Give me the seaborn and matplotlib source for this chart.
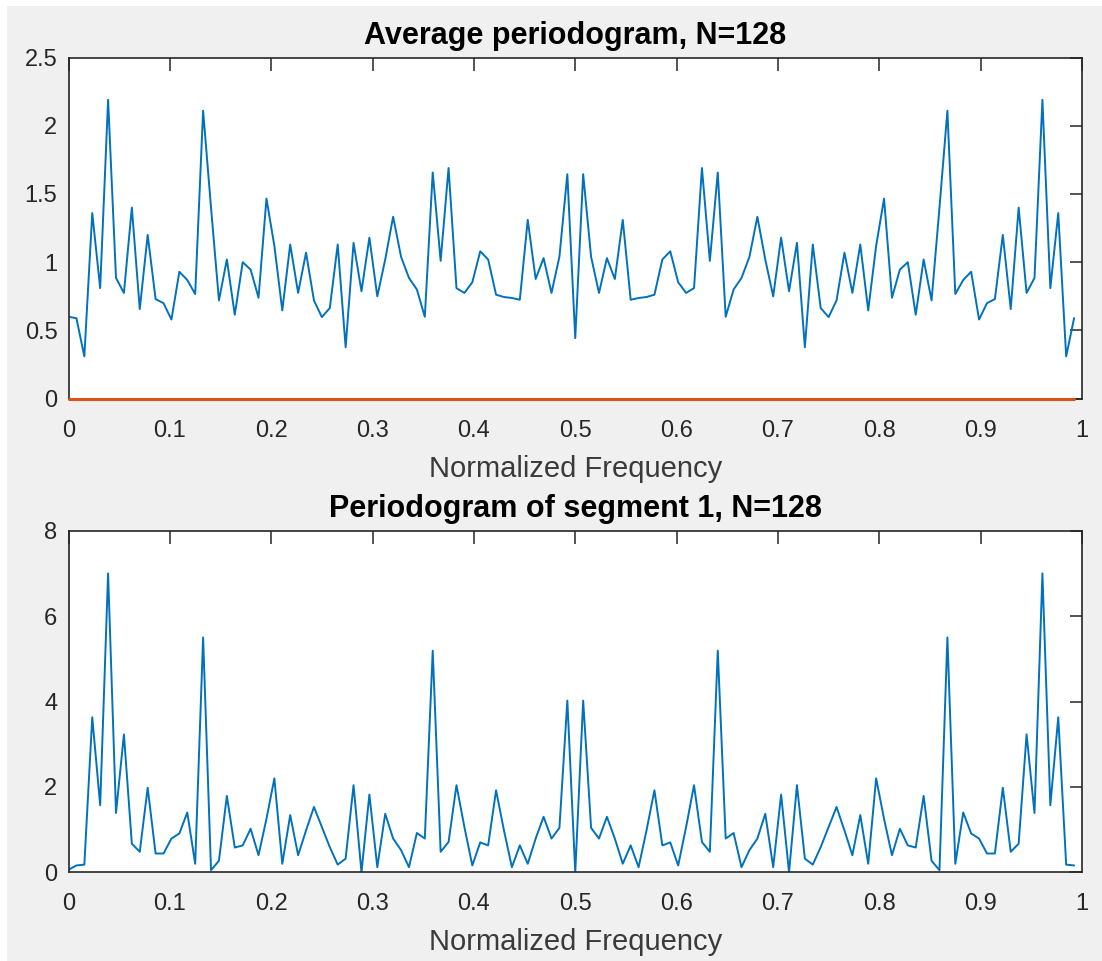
import numpy as np
import pandas as pd
import matplotlib
matplotlib.use("Agg")
import matplotlib.pyplot as plt
from matplotlib.patches import Rectangle
import seaborn as sns

# Frequency bins (N = 128) and spectral estimates
n_bins = 128
freq = np.arange(n_bins) / n_bins

avg_power = [
    0.60, 0.59, 0.31, 1.36, 0.81, 2.19, 0.885, 0.775, 1.40, 0.657,
    1.20, 0.73, 0.70, 0.58, 0.93, 0.87, 0.767, 2.11, 1.40, 0.72,
    1.02, 0.615, 1.00, 0.946, 0.74, 1.466, 1.12, 0.647, 1.13, 0.775,
    1.07, 0.72, 0.598, 0.664, 1.13, 0.377, 1.142, 0.787, 1.18, 0.75,
    1.02, 1.333, 1.04, 0.885, 0.80, 0.60, 1.657, 1.01, 1.69, 0.81,
    0.775, 0.853, 1.08, 1.02, 0.762, 0.745, 0.738, 0.725, 1.31, 0.877,
    1.03, 0.775, 1.04, 1.645, 0.444,
    1.645, 1.04, 0.775, 1.03, 0.877, 1.31, 0.725, 0.738, 0.745, 0.762,
    1.02, 1.08, 0.853, 0.775, 0.81, 1.69, 1.01, 1.657, 0.60, 0.80,
    0.885, 1.04, 1.333, 1.02, 0.75, 1.18, 0.787, 1.142, 0.377, 1.13,
    0.664, 0.598, 0.72, 1.07, 0.775, 1.13, 0.647, 1.12, 1.466, 0.74,
    0.946, 1.00, 0.615, 1.02, 0.72, 1.40, 2.11, 0.767, 0.87, 0.93,
    0.58, 0.70, 0.73, 1.20, 0.657, 1.40, 0.775, 0.885, 2.19, 0.81,
    1.36, 0.31, 0.59,
]

baseline = [0.0] * n_bins

seg1_power = [
    0.06, 0.16, 0.18, 3.63, 1.57, 7.0, 1.39, 3.23, 0.67, 0.48,
    1.98, 0.44, 0.44, 0.79, 0.91, 1.40, 0.20, 5.5, 0.05, 0.27,
    1.79, 0.58, 0.63, 1.02, 0.40, 1.25, 2.2, 0.20, 1.34, 0.40,
    0.98, 1.53, 1.06, 0.59, 0.18, 0.32, 2.04, 0.0, 1.82, 0.12,
    1.37, 0.79, 0.52, 0.12, 0.92, 0.79, 5.19, 0.48, 0.71, 2.04,
    1.06, 0.16, 0.70, 0.63, 1.92, 0.98, 0.12, 0.63, 0.20, 0.79,
    1.30, 0.79, 1.04, 4.02, 0.0,
    4.02, 1.04, 0.79, 1.30, 0.79, 0.20, 0.63, 0.12, 0.98, 1.92,
    0.63, 0.70, 0.16, 1.06, 2.04, 0.71, 0.48, 5.19, 0.79, 0.92,
    0.12, 0.52, 0.79, 1.37, 0.12, 1.82, 0.0, 2.04, 0.32, 0.18,
    0.59, 1.06, 1.53, 0.98, 0.40, 1.34, 0.20, 2.2, 1.25, 0.40,
    1.02, 0.63, 0.58, 1.79, 0.27, 0.05, 5.5, 0.20, 1.40, 0.91,
    0.79, 0.44, 0.44, 1.98, 0.48, 0.67, 3.23, 1.39, 7.0, 1.57,
    3.63, 0.18, 0.16,
]

top_title = "Average periodogram, N=128"
bottom_title = "Periodogram of segment 1, N=128"
x_label = "Normalized Frequency"
x_ticks = [0, 0.1, 0.2, 0.3, 0.4, 0.5, 0.6, 0.7, 0.8, 0.9, 1]
x_ticklabels = ["0", "0.1", "0.2", "0.3", "0.4", "0.5", "0.6", "0.7", "0.8", "0.9", "1"]
top_yticks = [0, 0.5, 1, 1.5, 2, 2.5]
top_yticklabels = ["0", "0.5", "1", "1.5", "2", "2.5"]
bottom_yticks = [0, 2, 4, 6, 8]
bottom_yticklabels = ["0", "2", "4", "6", "8"]

BLUE = "#0072BD"
ORANGE = "#D95319"
INK = "#262626"

sns.set_theme(style="white")
plt.rcParams["font.family"] = ["Liberation Sans", "DejaVu Sans"]
plt.rcParams.update({
    "xtick.direction": "in",
    "ytick.direction": "in",
    "xtick.color": INK,
    "ytick.color": INK,
    "axes.edgecolor": INK,
})

df_avg = pd.DataFrame({"freq": freq, "power": avg_power, "zero": baseline})
df_seg = pd.DataFrame({"freq": freq, "power": seg1_power})

W, H = 1102, 961
fig = plt.figure(figsize=(W / 100, H / 100), dpi=100, facecolor="#f0f0f0")

# thin white frame strips along the top and left edges of the window
fig.add_artist(Rectangle((0, 1 - 6 / H), 1, 6 / H, transform=fig.transFigure,
                         facecolor="white", edgecolor="none", zorder=0))
fig.add_artist(Rectangle((0, 0), 7 / W, 1, transform=fig.transFigure,
                         facecolor="white", edgecolor="none", zorder=0))

ax_left, ax_right = 68.5, 1082.0
ax1 = fig.add_axes([ax_left / W, 1 - 398.7 / H, (ax_right - ax_left) / W, (398.7 - 57.5) / H])
ax2 = fig.add_axes([ax_left / W, 1 - 872.3 / H, (ax_right - ax_left) / W, (872.3 - 530.7) / H])


def style_axes(ax, yticks, yticklabels, ylim, title):
    ax.set_facecolor("white")
    ax.set_xlim(0, 1)
    ax.set_ylim(*ylim)
    ax.set_xticks(x_ticks)
    ax.set_xticklabels(x_ticklabels, fontsize=17, color=INK)
    ax.set_yticks(yticks)
    ax.set_yticklabels(yticklabels, fontsize=17, color=INK)
    ax.tick_params(axis="both", which="major", length=9, width=1.1,
                   top=True, right=True)
    ax.tick_params(axis="x", pad=15)
    ax.tick_params(axis="y", pad=8)
    for sp in ax.spines.values():
        sp.set_visible(True)
        sp.set_linewidth(1.2)
        sp.set_color(INK)
    ax.set_xlabel(x_label, fontsize=21, color="#3a3a3a", labelpad=9.5)
    ax.set_ylabel("")
    ax.set_title(title, fontsize=22, fontweight="bold", color="black", pad=10)
    leg = ax.get_legend()
    if leg is not None:
        leg.remove()


sns.lineplot(data=df_avg, x="freq", y="power", ax=ax1, color=BLUE,
             linewidth=1.4, estimator=None)
sns.lineplot(data=df_avg, x="freq", y="zero", ax=ax1, color=ORANGE,
             linewidth=2.2, estimator=None, clip_on=False, zorder=5)
style_axes(ax1, top_yticks, top_yticklabels, (0, 2.5), top_title)

sns.lineplot(data=df_seg, x="freq", y="power", ax=ax2, color=BLUE,
             linewidth=1.4, estimator=None)
style_axes(ax2, bottom_yticks, bottom_yticklabels, (0, 8), bottom_title)

fig.savefig("out.png", dpi=100, facecolor=fig.get_facecolor())
